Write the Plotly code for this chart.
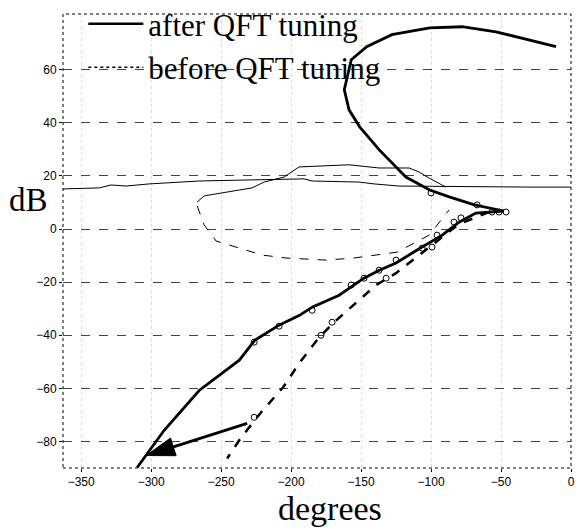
import plotly.graph_objects as go

# ---- data (degrees, dB) ----
after_x = [-10.7, -30, -53.6, -77.9, -101, -128, -146, -157, -162, -158.6, -151, -137, -118, -101, -87,
           -69, -51, -48, -58.6, -68, -80, -92, -110, -125, -137, -148, -165.7, -185, -194, -208.6,
           -226, -237, -265.7, -290.7, -310]
after_y = [68.7, 71.3, 74.3, 76.2, 75.8, 73.2, 68.7, 63.8, 52.5, 44.9, 38.5, 29.8, 19.6, 14.7, 12.1,
           9.1, 7.2, 6.8, 6.4, 6.0, 2.6, -2.3, -7.9, -12.8, -15.5, -18.5, -24.9, -29.4, -32.5, -36.2,
           -41.9, -49.4, -60.8, -75.8, -89.8]

before_x = [-58.6, -67.9, -80, -89.3, -99.3, -110.7, -125, -139.3, -153.6, -169.3, -180, -194.3,
            -205.7, -221.4, -235.7, -245.7]
before_y = [6.4, 4.5, 1.9, -1.9, -6.0, -10.9, -16.6, -21.1, -27.9, -35.1, -40.8, -50.6,
            -59.6, -69.0, -78.5, -86.4]

long_x = [-363.6, -337.1, -328.6, -317.9, -301.4, -265.7, -230, -190.7, -185, -151.4, -140.7, -122.9, -30, 0]
long_y = [15.1, 15.5, 16.6, 16.2, 17.0, 18.1, 18.5, 18.9, 18.1, 17.7, 17.0, 16.2, 15.8, 15.8]

upper_x = [-267.1, -262.1, -237.1, -227.9, -219.3, -205, -194.3, -158.6, -137.1, -115.7, -108.6, -101.4, -89.3]
upper_y = [10.2, 12.5, 14.7, 15.5, 17.7, 19.6, 23.4, 24.2, 23.0, 23.0, 21.5, 19.2, 15.8]

lower_x = [-267.1, -262.1, -253.6, -242.1, -230, -220.7, -203.6, -175, -155, -124.3, -101.4, -87.1]
lower_y = [8.7, 1.5, -4.5, -6.4, -8.3, -9.8, -10.9, -11.7, -10.9, -8.7, -2.3, 7.2]

arrow_x = [-231.4, -303.6]
arrow_y = [-73.2, -85.3]

circ_x = [-226.4, -208.6, -185, -157.1, -147.9, -137.1, -125, -106.4, -99.3, -95.7, -83.6, -78.6,
          -67.1, -56.4, -51.4, -46.4, -100, -132.1, -170.7, -178.6, -226.4]
circ_y = [-42.6, -36.6, -30.6, -21.1, -18.5, -15.5, -11.7, -7.2, -6.8, -2.3, 2.6, 4.2,
          9.1, 6.4, 6.4, 6.4, 13.6, -18.5, -35.1, -40.0, -70.9]

x_ticks = [-350, -300, -250, -200, -150, -100, -50, 0]
y_ticks = [-80, -60, -40, -20, 0, 20, 40, 60]

legend_names = ["after QFT tuning", "before QFT tuning"]

SERIF = "Liberation Serif, Times New Roman, serif"

fig = go.Figure()

fig.add_trace(go.Scatter(x=long_x, y=long_y, mode="lines", line=dict(color="black", width=1),
                         showlegend=False, hoverinfo="skip"))
fig.add_trace(go.Scatter(x=upper_x, y=upper_y, mode="lines", line=dict(color="black", width=1),
                         showlegend=False, hoverinfo="skip"))
fig.add_trace(go.Scatter(x=lower_x, y=lower_y, mode="lines", line=dict(color="black", width=1, dash="dash"),
                         showlegend=False, hoverinfo="skip"))
fig.add_trace(go.Scatter(x=before_x, y=before_y, mode="lines", line=dict(color="black", width=2.5, dash="dash"),
                         showlegend=False))
fig.add_trace(go.Scatter(x=after_x, y=after_y, mode="lines", line=dict(color="black", width=2.8),
                         showlegend=False))
fig.add_trace(go.Scatter(x=circ_x, y=circ_y, mode="markers",
                         marker=dict(symbol="circle-open", size=6, color="black", line=dict(width=1)),
                         showlegend=False))
fig.add_trace(go.Scatter(x=arrow_x, y=arrow_y, mode="lines+markers",
                         line=dict(color="black", width=2.8),
                         marker=dict(symbol="arrow", size=[0, 30], angleref="previous", color="black",
                                     opacity=1, line=dict(color="black", width=1)),
                         showlegend=False))

# legend entries
fig.add_trace(go.Scatter(x=[None], y=[None], mode="lines", name=legend_names[0],
                         line=dict(color="black", width=2.5)))
fig.add_trace(go.Scatter(x=[None], y=[None], mode="lines", name=legend_names[1],
                         line=dict(color="black", width=1.5, dash="dot")))

fig.update_layout(
    width=576, height=529,
    margin=dict(l=63, r=5, t=14, b=61, autoexpand=False),
    paper_bgcolor="white", plot_bgcolor="white",
    font=dict(family="Liberation Sans, Arial", color="black", size=12),
    legend=dict(x=0.04, y=1.037, xanchor="left", yanchor="top",
                bgcolor="rgba(0,0,0,0)", borderwidth=0,
                font=dict(family=SERIF, size=31, color="black"),
                itemwidth=55, tracegroupgap=0),
    shapes=[dict(type="rect", xref="paper", yref="paper", x0=0, y0=0, x1=1, y1=1,
                 line=dict(color="black", width=1, dash="dot"), layer="above")],
    annotations=[
        dict(text="dB", xref="paper", yref="paper", x=-0.067, y=0.59, xanchor="center", yanchor="middle",
             showarrow=False, font=dict(family=SERIF, size=33, color="black")),
        dict(text="degrees", xref="paper", yref="paper", x=0.525, y=-0.09, xanchor="center", yanchor="middle",
             showarrow=False, font=dict(family=SERIF, size=34, color="black")),
    ],
)
fig.update_xaxes(range=[-363, 0], tickvals=x_ticks, ticks="outside", ticklen=3, tickcolor="black",
                 showgrid=True, gridcolor="#dddddd", griddash="dot", gridwidth=1,
                 zeroline=False, showline=False, tickfont=dict(size=12))
fig.update_yaxes(range=[-90, 81], tickvals=y_ticks, ticks="outside", ticklen=3, tickcolor="black",
                 showgrid=True, gridcolor="#444444", griddash="dash", gridwidth=1,
                 zeroline=False, showline=False, tickfont=dict(size=12))

fig.write_html("out.html")
